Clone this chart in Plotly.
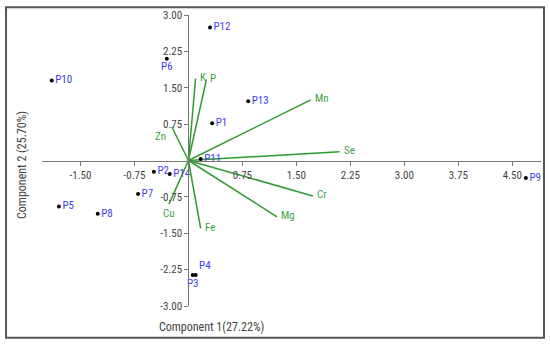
import plotly.graph_objects as go

# Scores (samples)
sample_names = ["P1", "P2", "P3", "P4", "P5", "P6", "P7", "P8", "P9", "P10", "P11", "P12", "P13", "P14"]
sample_pc1 = [0.33, -0.48, 0.06, 0.10, -1.80, -0.30, -0.70, -1.26, 4.69, -1.90, 0.17, 0.30, 0.83, -0.26]
sample_pc2 = [0.77, -0.23, -2.36, -2.36, -0.95, 2.10, -0.69, -1.10, -0.36, 1.65, 0.03, 2.74, 1.22, -0.28]
sample_textpos = ["middle right", "middle right", "bottom center", "top right", "middle right",
                  "bottom center", "middle right", "middle right", "middle right", "middle right",
                  "middle right", "middle right", "middle right", "middle right"]

# Loadings (variables)
var_names = ["K", "P", "Zn", "Mn", "Se", "Cr", "Mg", "Fe", "Cu"]
var_pc1 = [0.10, 0.25, -0.23, 1.70, 2.10, 1.73, 1.23, 0.17, -0.27]
var_pc2 = [1.69, 1.67, 0.69, 1.25, 0.18, -0.73, -1.16, -1.40, -0.90]
var_xanchor = ["left", "left", "right", "left", "left", "left", "left", "left", "center"]
var_yanchor = ["middle", "middle", "top", "middle", "middle", "middle", "middle", "middle", "top"]

x_ticks = [-1.50, -0.75, 0.75, 1.50, 2.25, 3.00, 3.75, 4.50]
y_ticks = [3.00, 2.25, 1.50, 0.75, -0.75, -1.50, -2.25, -3.00]

x_range = [-2.035, 4.90]
y_range = [-3.0, 3.0]

FONT = "Liberation Sans Narrow, Roboto Condensed, Arial Narrow, Roboto, sans-serif"
GREEN_TXT = "#3aa33a"

fig = go.Figure()

# loading vectors
lx, ly = [], []
for a, b in zip(var_pc1, var_pc2):
    lx += [0, a, None]
    ly += [0, b, None]
fig.add_trace(go.Scatter(x=lx, y=ly, mode="lines",
                         line=dict(color="#2f9a2f", width=1.5),
                         hoverinfo="skip", showlegend=False))

# sample points
fig.add_trace(go.Scatter(x=sample_pc1, y=sample_pc2, mode="markers+text",
                         text=sample_names, textposition=sample_textpos, cliponaxis=False,
                         marker=dict(color="black", size=4),
                         textfont=dict(color="#3c3cf0", size=11, family=FONT),
                         showlegend=False))

x_pos = (0 - y_range[0]) / (y_range[1] - y_range[0])
y_pos = (0 - x_range[0]) / (x_range[1] - x_range[0])

var_annotations = []
for name, a, b, xa, ya in zip(var_names, var_pc1, var_pc2, var_xanchor, var_yanchor):
    var_annotations.append(dict(
        text=name, x=a, y=b, xref="x", yref="y", xanchor=xa, yanchor=ya,
        xshift=(2 if xa == "left" else (-4 if xa == "right" else 0)),
        yshift=(-1 if ya == "top" else 1),
        showarrow=False, font=dict(color=GREEN_TXT, size=11, family=FONT)))

fig.update_layout(
    width=550, height=345,
    margin=dict(l=42, r=9, t=13, b=39),
    paper_bgcolor="white", plot_bgcolor="white",
    font=dict(family=FONT, size=11, color="#333333"),
    xaxis=dict(range=x_range, anchor="free", position=x_pos,
               showgrid=False, zeroline=False, showline=True,
               linecolor="#777777", linewidth=1,
               ticks="outside", ticklen=4, tickcolor="#777777",
               tickvals=x_ticks, ticktext=["%.2f" % v for v in x_ticks],
               tickfont=dict(size=11, color="#444444", family=FONT)),
    yaxis=dict(range=y_range, anchor="free", position=y_pos,
               showgrid=False, zeroline=False, showline=True,
               linecolor="#777777", linewidth=1,
               ticks="outside", ticklen=4, tickcolor="#777777",
               tickvals=y_ticks, ticktext=["%.2f" % v for v in y_ticks],
               tickfont=dict(size=11, color="#444444", family=FONT)),
    shapes=[dict(type="rect", xref="paper", yref="paper",
                 x0=-0.0721, x1=1.006, y0=-0.109, y1=1.027,
                 line=dict(color="#555555", width=2), fillcolor="rgba(0,0,0,0)")],
    annotations=var_annotations + [
        dict(text="Component 1(27.22%)", xref="paper", yref="paper",
             x=(157 - 42) / 499, y=(306 - 327) / 293, xanchor="left", yanchor="middle",
             showarrow=False, font=dict(size=12, color="#444444", family=FONT)),
        dict(text="Component 2 (25.70%)", xref="paper", yref="paper",
             x=(22 - 42) / 499, y=(306 - 164) / 293, xanchor="center", yanchor="middle",
             textangle=-90, showarrow=False,
             font=dict(size=12, color="#444444", family=FONT)),
    ],
)

fig.write_html("out.html", config={"displayModeBar": False},
               post_script="document.body.style.margin='0';document.body.style.overflow='hidden';")
